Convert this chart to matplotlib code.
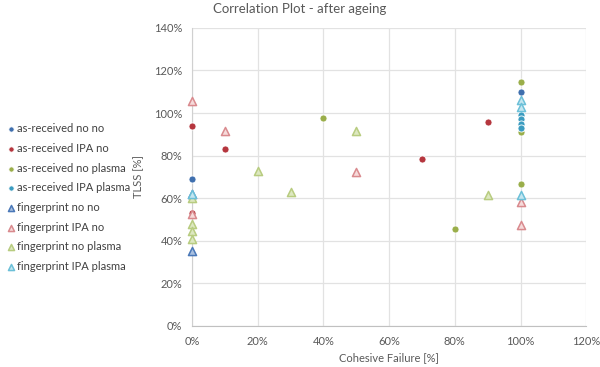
import matplotlib
matplotlib.use('Agg')
import matplotlib.pyplot as plt
from matplotlib.ticker import PercentFormatter

plt.rcParams['font.family'] = ['Lato', 'DejaVu Sans']

# series: (cohesive failure %, TLSS %)
recv_no_no_x = [0, 100]
recv_no_no_y = [69, 110]
recv_ipa_no_x = [0, 0, 10, 70, 90]
recv_ipa_no_y = [94, 53, 83, 78.5, 96]
recv_no_plasma_x = [0, 40, 80, 100, 100, 100]
recv_no_plasma_y = [60, 97.5, 45.5, 114.5, 91, 66.5]
recv_ipa_plasma_x = [100, 100, 100, 100]
recv_ipa_plasma_y = [99, 97, 95, 93]

fp_no_no_x = [0, 0]
fp_no_no_y = [62, 35]
fp_ipa_no_x = [0, 0, 10, 50, 100, 100]
fp_ipa_no_y = [105.5, 52.5, 91.5, 72.5, 58, 47.5]
fp_no_plasma_x = [0, 0, 0, 0, 20, 30, 50, 90]
fp_no_plasma_y = [60, 48, 44.5, 41, 73, 63, 91.5, 61.5]
fp_ipa_plasma_x = [0, 100, 100, 100]
fp_ipa_plasma_y = [62, 106, 103, 61.5]

series = [
    ('as-received no no', recv_no_no_x, recv_no_no_y, 'o', '#3f6fae', '#3f6fae'),
    ('as-received IPA no', recv_ipa_no_x, recv_ipa_no_y, 'o', '#b5363e', '#b5363e'),
    ('as-received no plasma', recv_no_plasma_x, recv_no_plasma_y, 'o', '#9aae4a', '#9aae4a'),
    ('as-received IPA plasma', recv_ipa_plasma_x, recv_ipa_plasma_y, 'o', '#3b9cc0', '#3b9cc0'),
    ('fingerprint no no', fp_no_no_x, fp_no_no_y, '^', '#4a78b8', '#a9c0e0'),
    ('fingerprint IPA no', fp_ipa_no_x, fp_ipa_no_y, '^', '#d98a8e', '#f6dada'),
    ('fingerprint no plasma', fp_no_plasma_x, fp_no_plasma_y, '^', '#b8cc80', '#dde8c0'),
    ('fingerprint IPA plasma', fp_ipa_plasma_x, fp_ipa_plasma_y, '^', '#6cc0d8', '#c4e6f0'),
]

fig = plt.figure(figsize=(6, 3.67), dpi=100)
ax = fig.add_axes([0.32, 0.112, 0.657, 0.812])

for name, xs, ys, m, ec, fc in series:
    if m == 'o':
        ax.scatter(xs, ys, s=26, marker=m, facecolor=fc, edgecolor='white',
                   linewidth=0.6, label=name, zorder=3, clip_on=False)
    else:
        ax.scatter(xs, ys, s=34, marker=m, facecolor=fc, edgecolor=ec,
                   linewidth=1.1, label=name, zorder=3, clip_on=False)

ax.set_xlim(0, 120)
ax.set_ylim(0, 140)
ax.set_xticks(range(0, 121, 20))
ax.set_yticks(range(0, 141, 20))
ax.xaxis.set_major_formatter(PercentFormatter(decimals=0))
ax.yaxis.set_major_formatter(PercentFormatter(decimals=0))
ax.grid(True, color='#e2e2e2', linewidth=0.9)
ax.set_axisbelow(True)
for s in ['top', 'right']:
    ax.spines[s].set_visible(False)
ax.spines['left'].set_color('#d0d0d0')
ax.spines['bottom'].set_color('#c0c0c0')
ax.tick_params(length=0, labelsize=8, labelcolor='#595959', pad=7)

ax.set_xlabel('Cohesive Failure [%]', fontsize=8, color='#595959', labelpad=4)
ax.set_ylabel('TLSS [%]', fontsize=8, color='#595959', labelpad=7)
ax.set_title('Correlation Plot - after ageing', fontsize=9.5, color='#595959',
             x=0.274, pad=11)

fig.legend(loc='upper left', bbox_to_anchor=(0.0, 0.676), frameon=False,
           fontsize=8, labelcolor='#404040', handletextpad=0.05,
           labelspacing=0.78, borderaxespad=0, handlelength=1.1,
           scatterpoints=1, markerscale=0.75)

fig.savefig('out.png', dpi=100)
